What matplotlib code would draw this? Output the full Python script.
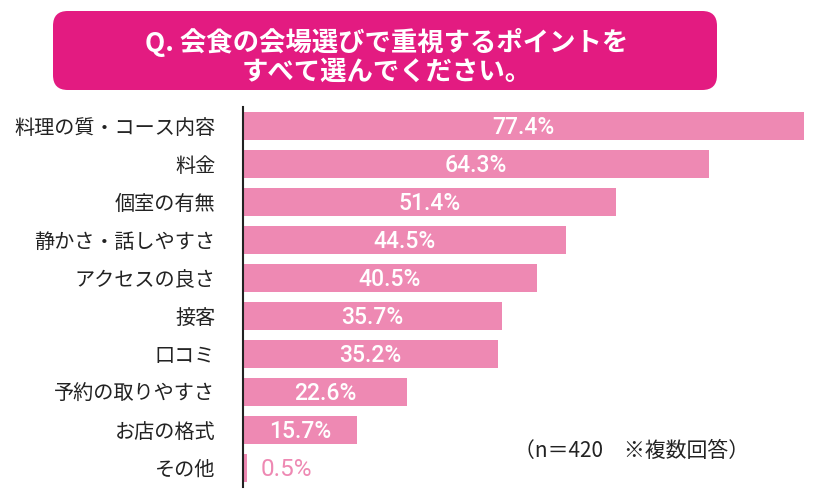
import matplotlib
matplotlib.use("Agg")
import matplotlib.pyplot as plt
from matplotlib.patches import FancyBboxPatch

plt.rcParams['font.family'] = ['Noto Sans CJK JP', 'DejaVu Sans']

categories = ["料理の質・コース内容", "料金", "個室の有無", "静かさ・話しやすさ",
              "アクセスの良さ", "接客", "口コミ", "予約の取りやすさ", "お店の格式", "その他"]
values = [77.4, 64.3, 51.4, 44.5, 40.5, 35.7, 35.2, 22.6, 15.7, 0.5]
title_text = "Q. 会食の会場選びで重視するポイントを\nすべて選んでください。"
note_text = "（n＝420　※複数回答）"

bar_color = "#ee89b3"
title_color = "#e31b81"

W, H = 820, 500
fig = plt.figure(figsize=(W / 100, H / 100), dpi=100)

# axes placed in pixel coords of the reference
ax_left, ax_right, ax_top, ax_bottom = 243, 815, 107, 487
ax = fig.add_axes([ax_left / W, 1 - ax_bottom / H,
                   (ax_right - ax_left) / W, (ax_bottom - ax_top) / H])

y = list(range(len(categories)))
ax.barh(y, values, height=0.74, color=bar_color, edgecolor="none")
ax.set_xlim(0, 78.9)
ax.set_ylim(len(categories) - 0.5, -0.5)

num_font = ["Roboto", "DejaVu Sans"]
for yi, v in zip(y, values):
    label = f"{v:.1f}%"
    if v < 5:
        ax.text(v + 2, yi + 0.05, label, ha="left", va="center", color=bar_color,
                fontsize=17.5, family=num_font)
    else:
        ax.text(v / 2, yi + 0.05, label, ha="center", va="center", color="white",
                fontsize=16.5, fontweight="medium", family=num_font)

ax.set_yticks(y)
ax.set_yticklabels(categories, fontsize=14.5, color="#222222")
ax.tick_params(axis="y", length=0, pad=20)
ax.set_xticks([])
for side in ["top", "right", "bottom"]:
    ax.spines[side].set_visible(False)
ax.spines["left"].set_linewidth(1.5)
ax.spines["left"].set_color("#222222")

ax.text(0.885, 0.095, note_text, transform=ax.transAxes,
        ha="right", va="center", fontsize=15, color="#222222")

# title box
bx0, bx1, by0, by1 = 53, 717, 11, 90
box = FancyBboxPatch((bx0 / W, 1 - by1 / H), (bx1 - bx0) / W, (by1 - by0) / H,
                     boxstyle="round,pad=0,rounding_size=0.018",
                     transform=fig.transFigure, facecolor=title_color,
                     edgecolor="none", mutation_aspect=W / H)
fig.patches.append(box)
fig.text(387 / W, 1 - 57 / H, title_text, ha="center", va="center", color="white",
         fontsize=19, fontweight="bold", linespacing=1.12)

fig.savefig("out.png", dpi=100)
